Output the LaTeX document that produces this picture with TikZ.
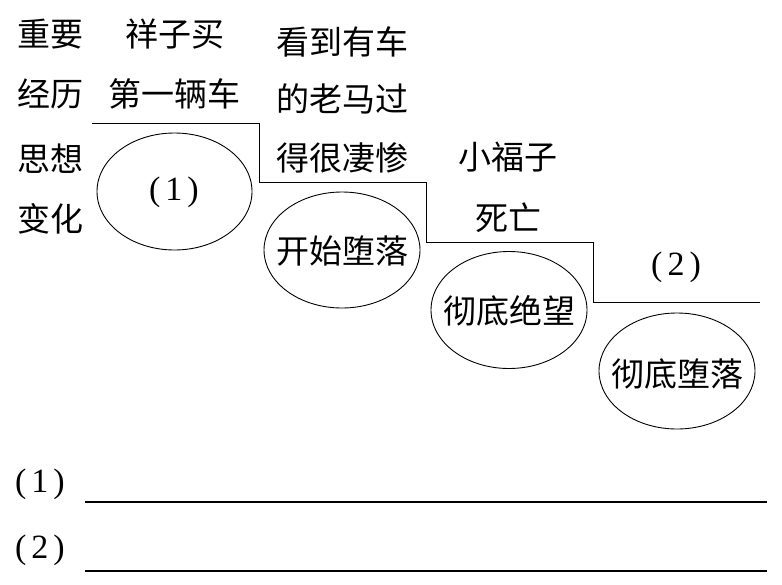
\documentclass[tikz,border=0pt]{standalone}
\usepackage{fontspec}
\newfontfamily\cjk{Noto Sans CJK SC}
\newfontfamily\latin{Liberation Serif}
\newcommand{\numlabel}[1]{(\hspace{5pt}#1\hspace{5pt})}
\begin{document}
\begin{tikzpicture}[x=1pt, y=-1pt,
    word/.style={font=\cjk\fontsize{33}{33}\selectfont, inner sep=0pt},
    numtext/.style={font=\latin\fontsize{34}{34}\selectfont, inner sep=0pt},
    stage/.style={draw, line width=0.9pt}]
    \useasboundingbox (0,0) rectangle (782,584);

    % Row labels
    \node[word] (zhong) at (50,34) {重要};
    \node[word] (jing) at (50,94) {经历};
    \node[word] (si) at (50,159) {思想};
    \node[word] (bian) at (50,219) {变化};

    % Events
    \node[word] (buy1) at (175,34) {祥子买};
    \node[word] (buy2) at (174,94) {第一辆车};
    \node[word] (horse1) at (342,42) {看到有车};
    \node[word] (horse2) at (342,99) {的老马过};
    \node[word] (horse3) at (342,158) {得很凄惨};
    \node[word] (fuzi1) at (508,157) {小福子};
    \node[word] (fuzi2) at (508,218) {死亡};
    \node[numtext] (blanktwo) at (676,267) {\numlabel{2}};

    % Draw steps
    \draw[stage] (92,123) -- (259,123) -- (259,182) -- (426,182) -- (426,242)
        -- (593,242) -- (593,302) -- (760,302);

    % Draw ovals
    \draw[stage] (174.5,191.5) ellipse (77.5pt and 58.5pt);
    \draw[stage] (342,250) ellipse (78pt and 58pt);
    \draw[stage] (509,310) ellipse (78pt and 58.5pt);
    \draw[stage] (677,371) ellipse (78pt and 58pt);

    % Oval texts
    \node[numtext] (blankone) at (174,192) {\numlabel{1}};
    \node[word] (start) at (342,251) {开始堕落};
    \node[word] (despair) at (509,311) {彻底绝望};
    \node[word] (fall) at (677,374) {彻底堕落};

    % Answer lines
    \node[numtext] (ansone) at (40,484) {\numlabel{1}};
    \node[numtext] (anstwo) at (40,550) {\numlabel{2}};
    \draw[line width=1.2pt] (85,502) -- (767,502);
    \draw[line width=1.2pt] (85,571) -- (767,571);
\end{tikzpicture}
\end{document}
